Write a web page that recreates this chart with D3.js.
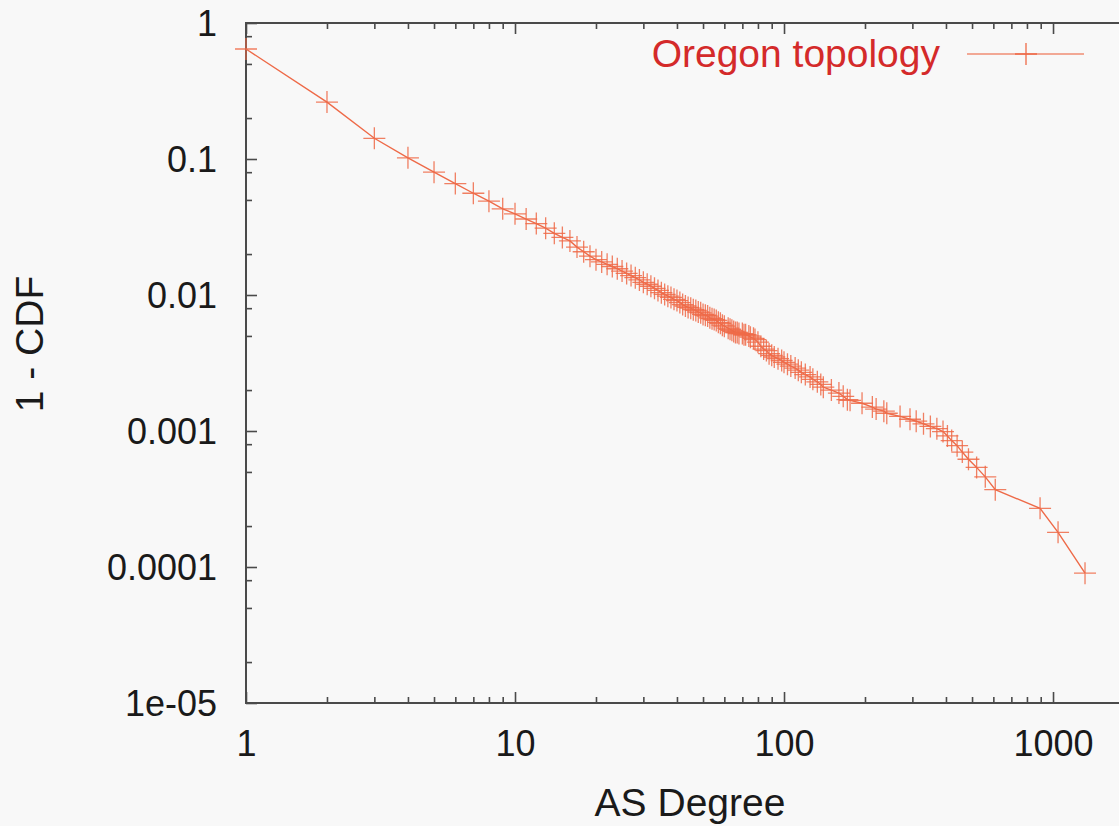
<!DOCTYPE html>
<html>
<head>
<meta charset="utf-8">
<script src="https://cdn.jsdelivr.net/npm/d3@7/dist/d3.min.js"></script>
<style>
  html, body { margin: 0; padding: 0; background: #f8f8f8; }
  svg { display: block; }
  text { font-family: "Liberation Sans", Arial, Helvetica, sans-serif; }
</style>
</head>
<body>
<svg id="chart" width="1119" height="826"></svg>
<script>
// ---- data ----
const seriesName = "Oregon topology";
const degree = [1,2,3,4,5,6,7,8,9,10,
  11,12,13,14,15,16,17,18,19,20,
  21,22,23,24,25,26,27,28,29,30,
  31,32,33,34,35,36,37,38,39,40,
  41,42,43,44,45,46,47,48,49,50,
  51,52,53,54,55,56,57,58,59,60,
  62,63,64,65,66,67,68,70,71,72,74,75,77,78,80,
  82,84,86,88,90,92,95,98,100,103,106,110,113,116,120,
  125,128,133,137,140,150,160,166,172,176,195,213,220,235,241,
  270,294,310,330,350,370,390,405,420,440,460,485,520,560,610,
  895,1044,1315];
const ccdf = [0.644,0.262,0.142,0.102,0.080,0.066,0.056,0.049,0.043,0.0395,
  0.0362,0.0335,0.0310,0.0284,0.0265,0.0250,0.0225,0.0208,0.0193,0.0182,
  0.0175,0.0168,0.0162,0.0156,0.0150,0.0144,0.0139,0.0134,0.0129,0.0124,
  0.0120,0.0116,0.0112,0.0108,0.0104,0.0101,0.0098,0.0096,0.0093,0.0091,
  0.0088,0.0085,0.0083,0.0081,0.0080,0.0078,0.0077,0.0075,0.0074,0.0072,
  0.0071,0.0070,0.0068,0.0067,0.0066,0.0065,0.0063,0.0062,0.0060,0.0059,
  0.0057,0.0056,0.0055,0.0054,0.0053,0.0053,0.0052,0.0052,0.0051,0.0051,0.0050,0.0049,0.0048,0.0047,0.0045,
  0.0042,0.0040,0.0039,0.0037,0.0036,0.0035,0.0034,0.0033,0.0032,0.0031,0.0030,0.0029,0.0028,0.0027,0.0026,
  0.0025,0.0024,0.0023,0.0022,0.0021,0.0020,0.0019,0.0018,0.0017,0.00168,0.0016,0.0015,0.00145,0.0014,0.00135,
  0.00128,0.00122,0.00118,0.00113,0.00108,0.00104,0.00099,0.00092,0.00085,0.00078,0.00070,0.00062,0.00054,0.00046,0.00037,
  0.00027,0.00018,0.00009];

const xTickValues = [1, 10, 100, 1000];
const xTickLabels = ["1", "10", "100", "1000"];
const yTickValues = [1, 0.1, 0.01, 0.001, 0.0001, 0.00001];
const yTickLabels = ["1", "0.1", "0.01", "0.001", "0.0001", "1e-05"];
const xMinorMultipliers = [2,3,4,5,6,7,8,9];
const yMinorMultipliers = [2,5,8];
const xTitle = "AS Degree";
const yTitle = "1 - CDF";

// ---- layout ----
const W = 1119, H = 826;
const pL = 246, pR = 1134, pT = 23, pB = 703;
const lineColor = "#ee6a48";
const axisColor = "#4a4a4a";

const svg = d3.select("#chart");
svg.append("rect").attr("width", W).attr("height", H).attr("fill", "#f8f8f8");

const x = d3.scaleLog().domain([1, 2000]).range([pL, pR]);
const y = d3.scaleLog().domain([0.00001, 1]).range([pB, pT]);

const xMinor = [];
[1, 10, 100, 1000].forEach(d => xMinorMultipliers.forEach(m => { if (d * m <= 2000) xMinor.push(d * m); }));
const yMinor = [];
[0.00001, 0.0001, 0.001, 0.01, 0.1].forEach(d => yMinorMultipliers.forEach(m => yMinor.push(d * m)));

function styleAxis(g) {
  g.select(".domain").remove();
  g.selectAll(".tick line").attr("stroke", axisColor).attr("stroke-width", 1.6);
  g.selectAll(".tick text").attr("fill", "#1a1a1a")
    .style("font-family", '"Liberation Sans", Arial, sans-serif');
}

// bottom axis
const gB = svg.append("g").attr("transform", `translate(0,${pB})`)
  .call(d3.axisBottom(x).tickValues(xTickValues).tickSize(-11).tickPadding(27)
    .tickFormat((d, i) => xTickLabels[i]));
styleAxis(gB);
gB.selectAll(".tick text").attr("font-size", 36);
svg.append("g").attr("transform", `translate(0,${pB})`)
  .call(d3.axisBottom(x).tickValues(xMinor).tickSize(-6).tickFormat(""))
  .call(styleAxis);

// top axis (mirrored ticks)
svg.append("g").attr("transform", `translate(0,${pT})`)
  .call(d3.axisTop(x).tickValues(xTickValues).tickSize(-11).tickFormat(""))
  .call(styleAxis);
svg.append("g").attr("transform", `translate(0,${pT})`)
  .call(d3.axisTop(x).tickValues(xMinor).tickSize(-6).tickFormat(""))
  .call(styleAxis);

// left axis
const gL = svg.append("g").attr("transform", `translate(${pL},0)`)
  .call(d3.axisLeft(y).tickValues(yTickValues).tickSize(-11).tickPadding(29)
    .tickFormat((d, i) => yTickLabels[i]));
styleAxis(gL);
gL.selectAll(".tick text").attr("font-size", 36).attr("dy", "0.36em");
svg.append("g").attr("transform", `translate(${pL},0)`)
  .call(d3.axisLeft(y).tickValues(yMinor).tickSize(-6).tickFormat(""))
  .call(styleAxis);

// right axis (mirrored, off the visible edge)
svg.append("g").attr("transform", `translate(${pR},0)`)
  .call(d3.axisRight(y).tickValues(yTickValues).tickSize(-11).tickFormat(""))
  .call(styleAxis);

// border
svg.append("rect").attr("x", pL).attr("y", pT)
  .attr("width", pR - pL).attr("height", pB - pT)
  .attr("fill", "none").attr("stroke", axisColor).attr("stroke-width", 2);

// axis titles
svg.append("text").attr("x", (pL + pR) / 2).attr("y", 816)
  .attr("text-anchor", "middle").attr("font-size", 39).attr("fill", "#1a1a1a")
  .text(xTitle);
svg.append("text").attr("transform", "translate(43,344) rotate(-90)")
  .attr("text-anchor", "middle").attr("font-size", 39).attr("fill", "#1a1a1a")
  .text(yTitle);

// data
const pts = degree.map((d, i) => [d, ccdf[i]]);
const plot = svg.append("g");
plot.append("path").datum(pts)
  .attr("fill", "none").attr("stroke", lineColor).attr("stroke-width", 1.4)
  .attr("d", d3.line().x(d => x(d[0])).y(d => y(d[1])));

const arm = 11;
plot.selectAll("path.pt").data(pts).enter().append("path")
  .attr("class", "pt")
  .attr("fill", "none").attr("stroke", lineColor).attr("stroke-width", 1.3)
  .attr("stroke-opacity", 0.85)
  .attr("d", d => {
    const px = x(d[0]), py = y(d[1]);
    return `M${px - arm},${py}H${px + arm}M${px},${py - arm}V${py + arm}`;
  });

// legend
const lg = svg.append("g");
lg.append("text").attr("x", 940).attr("y", 67).attr("text-anchor", "end")
  .attr("font-size", 39).attr("fill", "#d42a2a").text(seriesName);
lg.append("line").attr("x1", 967).attr("x2", 1084).attr("y1", 54).attr("y2", 54)
  .attr("stroke", lineColor).attr("stroke-width", 1.4).attr("stroke-opacity", 0.75);
lg.append("path").attr("fill", "none").attr("stroke", lineColor).attr("stroke-width", 1.3)
  .attr("d", `M${1026 - arm},54H${1026 + arm}M1026,${54 - arm}V${54 + arm}`);
</script>
</body>
</html>
